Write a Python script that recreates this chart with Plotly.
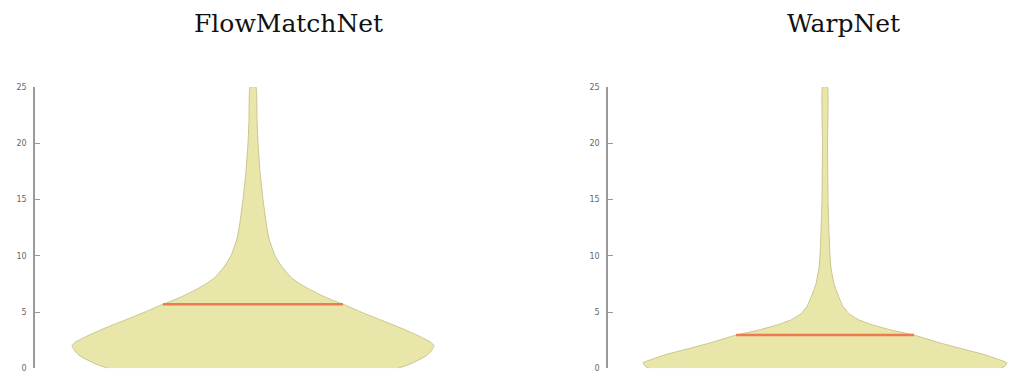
import plotly.graph_objects as go

W, H = 1009, 385

titles = ["FlowMatchNet", "WarpNet"]

# violin profiles: value levels and half-widths (in axis units)
left_levels = [0, 0.15, 0.3, 0.5, 0.8, 1.1, 1.5, 1.8, 2.0, 2.3, 2.6, 2.9, 3.5, 4.0, 4.5, 5.0, 5.7,
               6.0, 6.5, 7.0, 7.5, 8.0, 9.0, 10.0, 11.5, 13.0, 15.0, 17.5, 20.0, 22.0, 25.0]
left_half = [145, 150, 155, 160, 167, 173, 178, 180, 181, 178, 172, 165, 150, 136, 122, 108, 90,
             81, 68, 57, 47, 39, 29, 22, 16, 13, 10, 7, 5, 4, 3]
left_mean = 5.7
left_mean_half = 90

right_levels = [0, 0.2, 0.5, 0.8, 1.2, 1.73, 2.3, 2.95, 3.4, 3.9, 4.3, 4.85, 5.5, 6.3, 7.5, 8.9,
                10, 12, 15, 20, 25]
right_half = [176, 180, 182, 173, 160, 137, 113, 89, 66, 46, 34, 24, 18, 14, 9, 6,
              5, 4, 3, 2.5, 2.5]
right_mean = 2.95
right_mean_half = 89

y_ticks = [0, 5, 10, 15, 20, 25]

fill_col = "rgba(232,229,165,0.95)"
edge_col = "#c9c48e"
mean_col = "#ef7a4f"

def poly(levels, half):
    xs = [-h for h in half] + [h for h in reversed(half)]
    ys = list(levels) + list(reversed(levels))
    return xs, ys

fig = go.Figure()
for i, (lv, hw, m, mh) in enumerate([(left_levels, left_half, left_mean, left_mean_half),
                                     (right_levels, right_half, right_mean, right_mean_half)]):
    xa = "x" if i == 0 else "x2"
    ya = "y" if i == 0 else "y2"
    xs, ys = poly(lv, hw)
    fig.add_trace(go.Scatter(x=xs, y=ys, fill="toself", fillcolor=fill_col,
                             mode="lines", line=dict(color=edge_col, width=1, shape="spline", smoothing=0.3),
                             xaxis=xa, yaxis=ya, hoverinfo="skip", showlegend=False))
    fig.add_trace(go.Scatter(x=[-mh, mh], y=[m, m], mode="lines",
                             line=dict(color=mean_col, width=2.5),
                             xaxis=xa, yaxis=ya, showlegend=False))

ybot = (H - 373) / H
ytop = (H - 85) / H

yax = dict(range=[0, 25], domain=[ybot, ytop], tickvals=y_ticks, ticktext=[str(t) for t in y_ticks],
           showgrid=False, zeroline=False, showline=True, linecolor="#9a9a9a", linewidth=1.5,
           ticks="inside", ticklen=5, tickcolor="#9a9a9a", tickfont=dict(size=8, color="#666", family="DejaVu Sans"),
           ticklabelstandoff=5)

fig.update_layout(
    width=W, height=H, margin=dict(l=0, r=0, t=0, b=0),
    paper_bgcolor="white", plot_bgcolor="white",
    xaxis=dict(domain=[35 / W, 541 / W], range=[-218, 288], visible=False),
    xaxis2=dict(domain=[608 / W, 1.0], range=[-217, 184], visible=False),
    yaxis=dict(**yax, anchor="x"),
    yaxis2=dict(**yax, anchor="x2"),
    annotations=[
        dict(text=titles[0], x=288 / W, y=(H - 20) / H, xref="paper", yref="paper",
             showarrow=False, xanchor="center", yanchor="middle",
             font=dict(family="DejaVu Serif", size=25, color="#111")),
        dict(text=titles[1], x=843 / W, y=(H - 20) / H, xref="paper", yref="paper",
             showarrow=False, xanchor="center", yanchor="middle",
             font=dict(family="DejaVu Serif", size=25, color="#111")),
    ],
)

fig.write_html("out.html")
